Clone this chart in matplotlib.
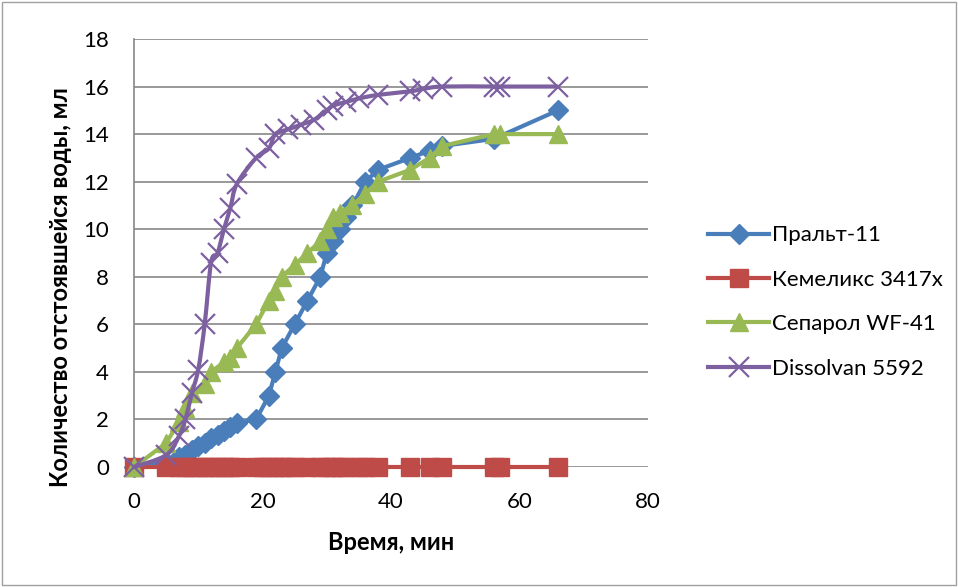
import numpy as np
import matplotlib
matplotlib.use("Agg")
import matplotlib.pyplot as plt
from matplotlib.path import Path
from matplotlib.patches import PathPatch, Rectangle
from matplotlib.lines import Line2D

plt.rcParams['font.family'] = ['Lato', 'DejaVu Sans']

# --- data -------------------------------------------------------------
labels = ["Пральт-11", "Кемеликс 3417х", "Сепарол WF-41", "Dissolvan 5592"]

t_pralt = [0, 5, 7, 8, 9, 10, 11, 12, 13, 14, 15, 16, 19, 21, 22, 23, 25, 27,
           29, 30, 31, 32, 33, 34, 36, 38, 43, 46, 48, 56, 66]
v_pralt = [0, 0.2, 0.4, 0.5, 0.7, 0.9, 1.0, 1.2, 1.35, 1.5, 1.7, 1.85, 2.0,
           3.0, 4.0, 5.0, 6.0, 7.0, 8.0, 9.0, 9.5, 10.0, 10.5, 11.0, 12.0,
           12.5, 13.0, 13.3, 13.5, 13.8, 15.0]

t_kemeliks = [0, 5, 7, 8, 9, 10, 11, 12, 13, 14, 15, 16, 19, 20, 21, 22, 23,
              24, 25, 27, 29, 30, 31, 32, 33, 35, 36, 38, 43, 46, 48, 56, 57, 66]
v_kemeliks = [0] * len(t_kemeliks)

t_separol = [0, 5, 7, 8, 9, 11, 12, 14, 15, 16, 19, 21, 22, 23, 25, 27, 29,
             30, 31, 32, 34, 36, 38, 43, 46, 48, 56, 57, 66]
v_separol = [0, 1.0, 1.9, 2.5, 3.1, 3.5, 4.0, 4.4, 4.6, 5.0, 6.0, 7.0, 7.4,
             8.0, 8.5, 9.0, 9.5, 10.0, 10.5, 10.7, 11.0, 11.5, 12.0, 12.5,
             13.0, 13.5, 14.0, 14.0, 14.0]

t_dissolvan = [0, 5, 7, 8, 9, 10, 11, 12, 13, 14, 15, 16, 19, 21, 22, 24,
               26, 28, 30, 31, 33, 35, 38, 43, 45, 48, 56, 57, 66]
v_dissolvan = [0, 0.5, 1.3, 2.0, 3.1, 4.1, 6.0, 8.6, 9.0, 10.0, 10.9, 11.9,
               13.0, 13.4, 14.0, 14.2, 14.4, 14.6, 15.0, 15.2, 15.35, 15.5,
               15.65, 15.8, 15.9, 16.0, 16.0, 16.0, 16.0]

x_ticks = [0, 20, 40, 60, 80]
y_ticks = [0, 2, 4, 6, 8, 10, 12, 14, 16, 18]

c_blue = "#4A7EBB"
c_red = "#BE4B48"
c_green = "#98B954"
c_purple = "#7D60A0"
c_grid = "#878787"


def smooth_path(xs, ys, tension=1.0 / 6.0):
    """Cubic Bezier path through the points (Catmull-Rom style)."""
    xs = np.asarray(xs, float)
    ys = np.asarray(ys, float)
    verts = [(xs[0], ys[0])]
    codes = [Path.MOVETO]
    n = len(xs)
    for i in range(n - 1):
        i0 = max(i - 1, 0)
        i3 = min(i + 2, n - 1)
        c1 = (xs[i] + (xs[i + 1] - xs[i0]) * tension,
              ys[i] + (ys[i + 1] - ys[i0]) * tension)
        c2 = (xs[i + 1] - (xs[i3] - xs[i]) * tension,
              ys[i + 1] - (ys[i3] - ys[i]) * tension)
        verts += [c1, c2, (xs[i + 1], ys[i + 1])]
        codes += [Path.CURVE4] * 3
    return Path(verts, codes)


fig = plt.figure(figsize=(9.58, 5.87), dpi=100)
ax = fig.add_axes([134 / 958, 1 - 467 / 587, 514 / 958, 428 / 587])

ax.set_xlim(0, 80)
ax.set_ylim(0, 18)
ax.set_xticks(x_ticks)
ax.set_yticks(y_ticks)
ax.tick_params(axis='both', length=0, labelsize=16)
ax.tick_params(axis='x', pad=18)
ax.tick_params(axis='y', pad=18)

for s in ['top', 'right', 'bottom']:
    ax.spines[s].set_visible(False)
ax.spines['left'].set_color(c_grid)
ax.spines['left'].set_linewidth(1.2)
ax.yaxis.grid(True, color=c_grid, linewidth=1.2)
ax.set_axisbelow(True)

lw = 3.0
# Пральт-11
ax.plot(t_pralt, v_pralt, color=c_blue, lw=lw, marker='D', ms=10.5,
        mec=c_blue, mfc=c_blue, clip_on=False, zorder=3)
# Кемеликс 3417х
ax.plot(t_kemeliks, v_kemeliks, color=c_red, lw=lw, marker='s', ms=13,
        mec=c_red, mfc=c_red, clip_on=False, zorder=4)
# Сепарол WF-41
ax.plot(t_separol, v_separol, color=c_green, lw=lw, marker='^', ms=13,
        mec=c_green, mfc=c_green, clip_on=False, zorder=5)
# Dissolvan 5592 (smoothed line)
ax.add_patch(PathPatch(smooth_path(t_dissolvan, v_dissolvan), facecolor='none',
                       edgecolor=c_purple, lw=lw, zorder=6, clip_on=False))
ax.plot(t_dissolvan, v_dissolvan, linestyle='none', marker='x', ms=14,
        mew=1.6, color=c_purple, clip_on=False, zorder=7)

ax.set_xlabel("Время, мин", fontsize=17, fontweight='bold', labelpad=14)
ax.set_ylabel("Количество отстоявшейся воды, мл", fontsize=17,
              fontweight='bold')
ax.yaxis.set_label_coords(-62 / 514, 0.42)

handles = [
    Line2D([], [], color=c_blue, lw=lw, marker='D', ms=10.5),
    Line2D([], [], color=c_red, lw=lw, marker='s', ms=13),
    Line2D([], [], color=c_green, lw=lw, marker='^', ms=13),
    Line2D([], [], color=c_purple, lw=lw, marker='x', ms=14, mew=1.6),
]
fig.legend(handles, labels, loc='center left',
           bbox_to_anchor=(688 / 958, 1 - 302 / 587), frameon=False,
           fontsize=16, handlelength=2.75, handletextpad=0.12,
           labelspacing=1.1)

fig.patches.append(Rectangle((0.002, 0.003), 0.996, 0.994,
                             transform=fig.transFigure, fill=False,
                             edgecolor="#A0A0A0", lw=1.0))

fig.savefig("out.png", dpi=100)
